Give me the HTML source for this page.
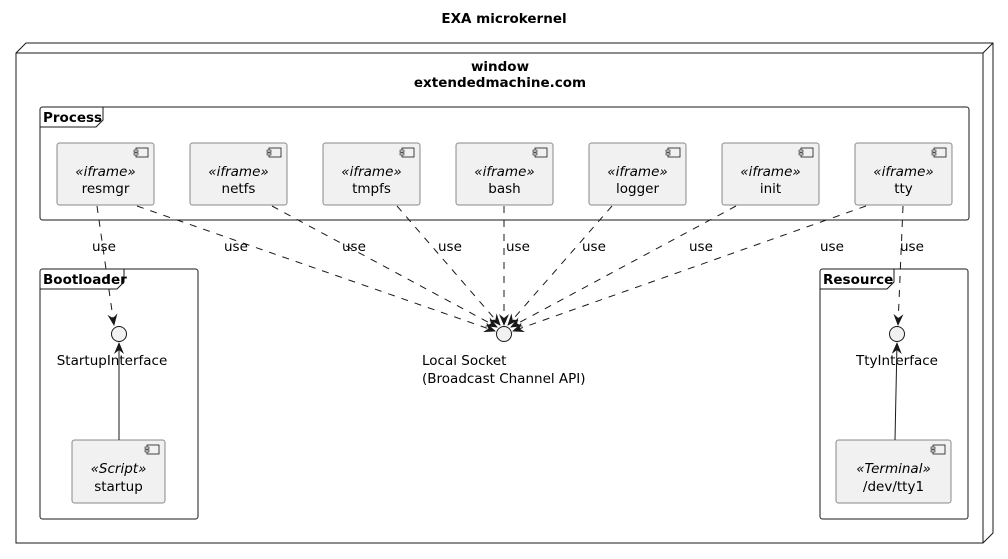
<!DOCTYPE html>
<html><head><meta charset="utf-8"><style>
html,body{margin:0;padding:0;background:#fff;}
svg{display:block;font-family:"DejaVu Sans","Liberation Sans",sans-serif;}
.comp{fill:#f1f1f1;stroke:#888;stroke-width:1;}
.d{stroke:#181818;stroke-width:1;stroke-dasharray:7,7;fill:none;}
.s{stroke:#181818;stroke-width:1;fill:none;}
.t{font-size:13.5px;fill:#000;}
.st{font-size:13.5px;font-style:italic;fill:#000;}
.b{font-size:13.5px;font-weight:bold;fill:#000;}
</style></head><body>
<svg width="1008" height="559" viewBox="0 0 1008 559">
<defs>
<marker id="a" viewBox="0 0 12 10" refX="11" refY="5" markerWidth="12" markerHeight="10" markerUnits="userSpaceOnUse" orient="auto">
<path d="M0,0 L12,5 L0,10 L4,5 Z" fill="#181818"/>
</marker>
<g id="ic"><rect x="-10" y="0" width="12" height="9" fill="#f1f1f1" stroke="#181818" stroke-width="0.8"/><rect x="-12" y="2" width="4" height="2" fill="#f1f1f1" stroke="#181818" stroke-width="0.6"/><rect x="-12" y="5" width="4" height="2" fill="#f1f1f1" stroke="#181818" stroke-width="0.6"/></g>
</defs>
<text x="504" y="23" text-anchor="middle" class="b">EXA microkernel</text>
<path d="M16,543 L16,53 L26,43 L993,43 L993,533 L983,543 Z" fill="#fff" stroke="#181818" stroke-width="1"/>
<path d="M16,53 L983,53 L993,43 M983,53 L983,543" fill="none" stroke="#181818" stroke-width="1"/>
<text x="500" y="71" text-anchor="middle" class="b">window</text>
<text x="500" y="87" text-anchor="middle" class="b">extendedmachine.com</text>
<rect x="40" y="107" width="929" height="113" rx="2.5" fill="none" stroke="#181818"/>
<path d="M40,127 L96,127 L103,120 L103,107" fill="none" stroke="#181818"/>
<text x="43" y="122" class="b">Process</text>
<g>
<rect class="comp" x="57" y="143" width="97" height="62" rx="2.5"/><use href="#ic" x="146" y="148"/>
<text x="105.5" y="176" text-anchor="middle" class="st">«iframe»</text><text x="105.5" y="193" text-anchor="middle" class="t">resmgr</text>
<rect class="comp" x="190" y="143" width="97" height="62" rx="2.5"/><use href="#ic" x="279" y="148"/>
<text x="238.5" y="176" text-anchor="middle" class="st">«iframe»</text><text x="238.5" y="193" text-anchor="middle" class="t">netfs</text>
<rect class="comp" x="323" y="143" width="97" height="62" rx="2.5"/><use href="#ic" x="412" y="148"/>
<text x="371.5" y="176" text-anchor="middle" class="st">«iframe»</text><text x="371.5" y="193" text-anchor="middle" class="t">tmpfs</text>
<rect class="comp" x="456" y="143" width="97" height="62" rx="2.5"/><use href="#ic" x="545" y="148"/>
<text x="504.5" y="176" text-anchor="middle" class="st">«iframe»</text><text x="504.5" y="193" text-anchor="middle" class="t">bash</text>
<rect class="comp" x="589" y="143" width="97" height="62" rx="2.5"/><use href="#ic" x="678" y="148"/>
<text x="637.5" y="176" text-anchor="middle" class="st">«iframe»</text><text x="637.5" y="193" text-anchor="middle" class="t">logger</text>
<rect class="comp" x="722" y="143" width="97" height="62" rx="2.5"/><use href="#ic" x="811" y="148"/>
<text x="770.5" y="176" text-anchor="middle" class="st">«iframe»</text><text x="770.5" y="193" text-anchor="middle" class="t">init</text>
<rect class="comp" x="855" y="143" width="97" height="62" rx="2.5"/><use href="#ic" x="944" y="148"/>
<text x="903.5" y="176" text-anchor="middle" class="st">«iframe»</text><text x="903.5" y="193" text-anchor="middle" class="t">tty</text>
</g>
<rect x="40" y="269" width="158" height="250" rx="2.5" fill="none" stroke="#181818"/>
<path d="M40,289 L117,289 L124,282 L124,269" fill="none" stroke="#181818"/>
<text x="43" y="284" class="b">Bootloader</text>
<circle cx="119" cy="334" r="7.5" fill="#f1f1f1" stroke="#181818"/>
<text x="112" y="365" text-anchor="middle" class="t">StartupInterface</text>
<rect class="comp" x="72" y="440" width="93" height="63" rx="2.5"/><use href="#ic" x="157" y="445"/>
<text x="118.5" y="473" text-anchor="middle" class="st">«Script»</text><text x="118.5" y="491" text-anchor="middle" class="t">startup</text>
<line class="s" x1="119" y1="440" x2="119" y2="343" marker-end="url(#a)"/>
<rect x="820" y="269" width="148" height="250" rx="2.5" fill="none" stroke="#181818"/>
<path d="M820,289 L887,289 L894,282 L894,269" fill="none" stroke="#181818"/>
<text x="823" y="284" class="b">Resource</text>
<circle cx="897" cy="334" r="7.5" fill="#f1f1f1" stroke="#181818"/>
<text x="897" y="365" text-anchor="middle" class="t">TtyInterface</text>
<rect class="comp" x="836" y="440" width="115" height="63" rx="2.5"/><use href="#ic" x="943" y="445"/>
<text x="893.5" y="473" text-anchor="middle" class="st">«Terminal»</text><text x="893.5" y="491" text-anchor="middle" class="t">/dev/tty1</text>
<line class="s" x1="895" y1="440" x2="897" y2="343" marker-end="url(#a)"/>
<circle cx="504" cy="334" r="7.5" fill="#f1f1f1" stroke="#181818"/>
<text x="422" y="365" class="t">Local Socket</text>
<text x="422" y="383" class="t">(Broadcast Channel API)</text>
<line class="d" x1="97" y1="206" x2="114" y2="325" marker-end="url(#a)"/>
<line class="d" x1="137" y1="206" x2="495" y2="331" marker-end="url(#a)"/>
<line class="d" x1="272" y1="206" x2="497" y2="327" marker-end="url(#a)"/>
<line class="d" x1="397" y1="206" x2="500" y2="325" marker-end="url(#a)"/>
<line class="d" x1="504" y1="206" x2="504" y2="325" marker-end="url(#a)"/>
<line class="d" x1="612" y1="206" x2="508" y2="325" marker-end="url(#a)"/>
<line class="d" x1="736" y1="206" x2="511" y2="327" marker-end="url(#a)"/>
<line class="d" x1="866" y1="206" x2="513" y2="331" marker-end="url(#a)"/>
<line class="d" x1="903" y1="206" x2="898" y2="325" marker-end="url(#a)"/>
<g class="t">
<text x="92" y="251">use</text><text x="224" y="251">use</text><text x="342" y="251">use</text>
<text x="438" y="251">use</text><text x="506" y="251">use</text><text x="582" y="251">use</text>
<text x="689" y="251">use</text><text x="820" y="251">use</text><text x="900" y="251">use</text>
</g>
</svg>
</body></html>
